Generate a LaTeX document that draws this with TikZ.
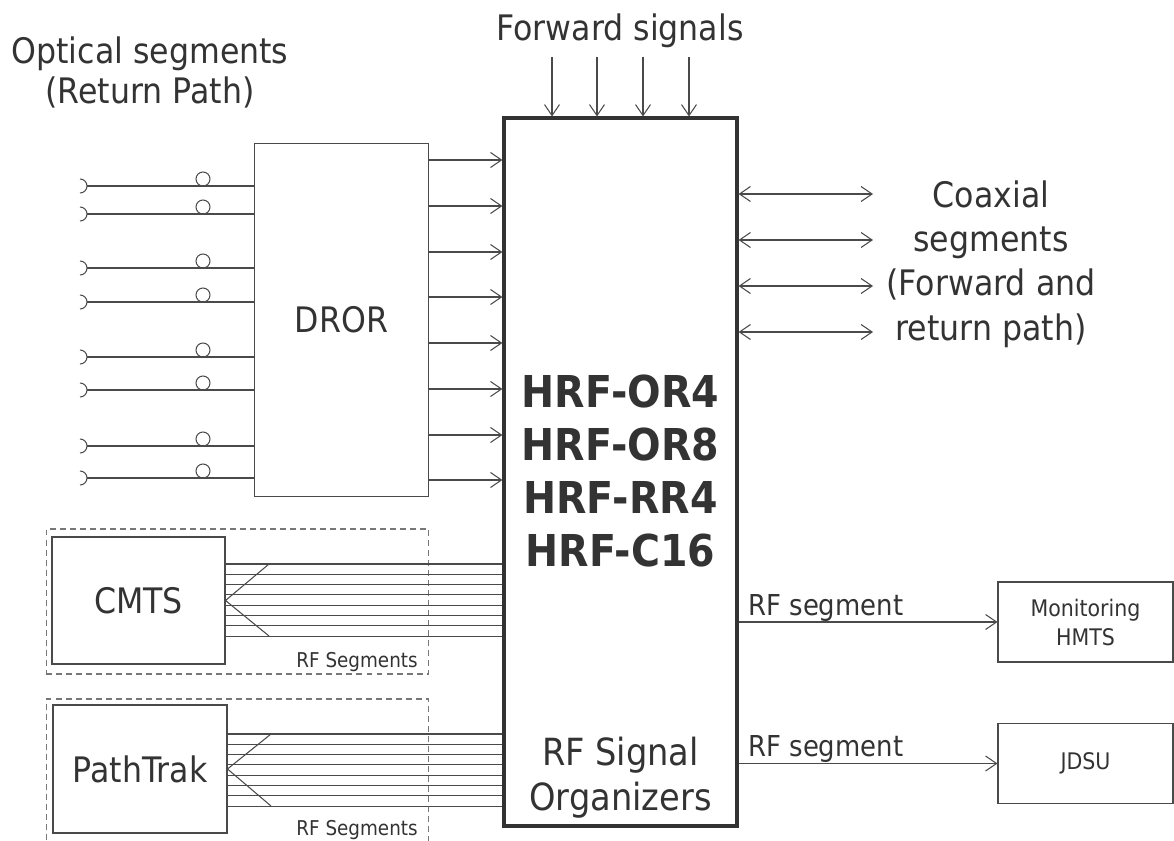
\documentclass[tikz,border=0pt]{standalone}
\usepackage{fontspec}
\setmainfont[FakeStretch=0.9]{DejaVu Sans}
\usepackage{tikz}
\usetikzlibrary{arrows.meta, positioning}
\definecolor{linegray}{HTML}{4A4A4A}
\definecolor{textgray}{HTML}{333333}
\definecolor{framegray}{HTML}{333333}
\definecolor{dashgray}{HTML}{777777}
\tikzstyle{organizer} = [rectangle, draw=framegray, line width=1.8pt, minimum width=4.66cm, minimum height=14.16cm, inner sep=0pt]
\tikzstyle{block} = [rectangle, draw=linegray, line width=0.6pt, inner sep=0pt, text=textgray, font=\fontsize{20}{24}\selectfont]
\tikzstyle{instrument} = [rectangle, draw=linegray, line width=0.6pt, minimum width=3.5cm, minimum height=1.6cm, inner sep=0pt, align=center, text=textgray, font=\fontsize{13}{16.5}\selectfont]
\tikzstyle{group} = [rectangle, draw=dashgray, line width=0.6pt, dash pattern=on 3.4pt off 2.3pt, minimum width=7.66cm, inner sep=0pt]
\tikzstyle{bigtext} = [text=textgray, align=center, inner sep=0pt, font=\fontsize{20}{25.2}\selectfont]
\tikzstyle{rflabel} = [text=textgray, inner sep=0pt, font=\fontsize{16.4}{20}\selectfont]
\tikzstyle{seglabel} = [text=textgray, inner sep=0pt, font=\fontsize{11.6}{14}\selectfont]
\tikzstyle{plug} = [circle, draw=linegray, line width=0.6pt, minimum size=0.28cm, inner sep=0pt]
\tikzstyle{fiber} = [draw=linegray, line width=0.6pt]
\tikzstyle{arrow} = [fiber, ->, >={Straight Barb[length=0.22cm, width=0.3cm]}]
\tikzstyle{biarrow} = [fiber, <->, >={Straight Barb[length=0.22cm, width=0.3cm]}]
\begin{document}
\begin{tikzpicture}[x=0.02cm, y=-0.02cm]
\useasboundingbox (0,0) rectangle (1174,841);
\clip (0,0) rectangle (1174,841);

% --- Signal organizer ---
\node (organizer) [organizer] at (620.5,472) {};
\node (models) [bigtext, font=\bfseries\fontsize{25}{30}\selectfont] at (620.5,471) {HRF-OR4\\HRF-OR8\\HRF-RR4\\HRF-C16};
\node (rfso) [bigtext, font=\fontsize{21.3}{25.6}\selectfont] at (620.5,778) {RF Signal\\Organizers};

% --- Forward signals ---
\node (fwd_text) [bigtext, anchor=base] at (620,41) {Forward signals};
\foreach \x [count=\i] in {552,597,643,689} {
  \coordinate (fw\i) at (\x,57);
  \draw [arrow] (fw\i) -- (fw\i |- organizer.north);
}

% --- DROR and optical return path ---
\node (dror) [block, minimum width=3.48cm, minimum height=7.08cm] at (341.5,320) {DROR};
\node (optical) [bigtext, font=\fontsize{20}{22.8}\selectfont] at (150,72) {Optical segments\\(Return Path)};
\foreach \y [count=\i] in {186,214,268,302,357,390,446,478} {
  \coordinate (fib\i) at (87,\y);
  \draw [fiber] (fib\i) -- (fib\i -| dror.west);
  \draw [fiber] ([shift={(-7,-7)}]fib\i) arc [start angle=90, end angle=-90, radius=0.14cm];
  \node (plug\i) [plug] at (203,\y-7) {};
}
\foreach \y in {160,206,252,297,343,389,435,480}
  \draw [arrow] (dror.east |- 0,\y) -- (organizer.west |- 0,\y);

% --- Coaxial segments ---
\node (coax_text) [bigtext] at (991,264) {Coaxial\\segments\\(Forward and\\return path)};
\foreach \y [count=\i] in {194,240,286,332} {
  \coordinate (cx\i) at (873,\y);
  \draw [biarrow] (organizer.east |- cx\i) -- (cx\i);
}

% --- Monitoring equipment ---
\node (hmts) [instrument] at (1085.5,622) {Monitoring\\HMTS};
\node (jdsu) [instrument] at (1085.5,763.5) {JDSU};
\draw [arrow] (organizer.east |- hmts) -- (hmts.west);
\node (rf_hmts) [rflabel, anchor=base west] at (748,615) {RF segment};
\draw [arrow] (organizer.east |- jdsu) -- (jdsu.west);
\node (rf_jdsu) [rflabel, anchor=base west] at (748,756) {RF segment};

% --- CMTS ---
\node (cmts_box) [group, minimum height=2.9cm] at (237.5,601.5) {};
\node (cmts) [block, minimum width=3.46cm, minimum height=2.54cm] at (138.5,600.5) {CMTS};
\node (cmts_rf) [seglabel, anchor=base east] at (418,667) {RF Segments};
\foreach \k in {0,...,7}
  \draw [fiber] (cmts.east |- 0,{564+10.3*\k}) -- (organizer.west |- 0,{564+10.3*\k});
\coordinate (cmts_top) at (269,564);
\coordinate (cmts_bot) at (269,636);
\draw [fiber] (cmts_top) -- (cmts.east) -- (cmts_bot);

% --- PathTrak ---
\node (pt_box) [group, minimum height=3.42cm] at (237.5,784.5) {};
\node (pathtrak) [block, minimum width=3.48cm, minimum height=2.56cm] at (140,769) {PathTrak};
\node (pt_rf) [seglabel, anchor=base east] at (418,835) {RF Segments};
\foreach \k in {0,...,7}
  \draw [fiber] (pathtrak.east |- 0,{734+10.3*\k}) -- (organizer.west |- 0,{734+10.3*\k});
\coordinate (pt_top) at (271,734);
\coordinate (pt_bot) at (271,806);
\draw [fiber] (pt_top) -- (pathtrak.east) -- (pt_bot);

\end{tikzpicture}
\end{document}
